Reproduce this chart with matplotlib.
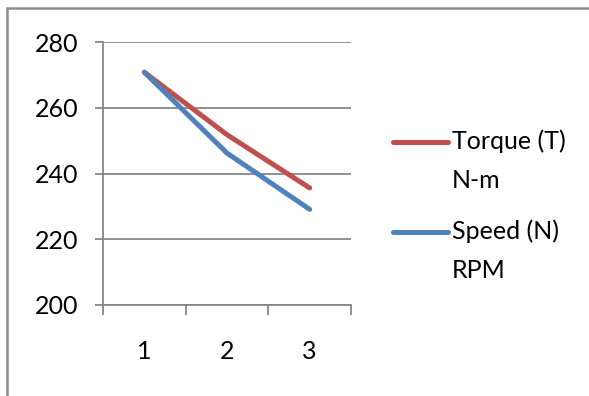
import matplotlib.pyplot as plt
from matplotlib.lines import Line2D
from matplotlib.patches import Rectangle
from matplotlib import font_manager

# data
categories = ["1", "2", "3"]
torque = [270.8, 251.8, 235.6]
speed = [270.8, 246.2, 229.1]
series_names = ["Torque (T)\nN-m", "Speed (N)\nRPM"]
yticks = [200, 220, 240, 260, 280]

RED = "#C0504D"
BLUE = "#4F81BD"
GRID = "#878787"

# pick a narrow-ish sans font like the Calibri in the original
font = "Lato"
for name in ["Liberation Sans Narrow", "Lato"]:
    try:
        font_manager.findfont(name, fallback_to_default=False)
        font = name
        break
    except Exception:
        pass
plt.rcParams["font.family"] = [font, "DejaVu Sans"]
FS = 18

fig = plt.figure(figsize=(5.89, 3.96), dpi=100)
ax = fig.add_axes([103 / 589, (396 - 305) / 396, 248 / 589, 263 / 396])

x = list(range(1, len(categories) + 1))
ax.plot(x, torque, color=RED, lw=3.6, solid_capstyle="round", zorder=3)
ax.plot(x, speed, color=BLUE, lw=3.6, solid_capstyle="round", zorder=3)

ax.set_xlim(0.5, len(categories) + 0.5)
ax.set_ylim(yticks[0], yticks[-1])
ax.set_yticks(yticks)
ax.yaxis.grid(True, color=GRID, lw=1.3)
ax.set_axisbelow(True)

# tick marks on category boundaries, labels centred on categories
ax.set_xticks([i + 0.5 for i in range(len(categories) + 1)])
ax.set_xticklabels([])
ax.set_xticks(x, minor=True)
ax.set_xticklabels(categories, minor=True, fontsize=FS)
ax.tick_params(axis="x", which="major", direction="out", length=7, width=1.3, color=GRID)
ax.tick_params(axis="x", which="minor", length=0, pad=25)
ax.tick_params(axis="y", direction="out", length=6, width=1.3, color=GRID, pad=12, labelsize=FS)

for s in ["top", "right"]:
    ax.spines[s].set_visible(False)
for s in ["left", "bottom"]:
    ax.spines[s].set_color(GRID)
    ax.spines[s].set_linewidth(1.3)

# legend drawn the Excel way: handle beside the first line of the label
for name, color, y0 in zip(series_names, [RED, BLUE], [142, 232]):
    fy = 1 - y0 / 396
    fig.add_artist(Line2D([393 / 589, 448 / 589], [fy, fy], color=color, lw=3.6,
                          solid_capstyle="round", transform=fig.transFigure))
    fig.text(452 / 589, 1 - (y0 - 13) / 396, name, fontsize=FS, va="top",
             ha="left", linespacing=1.85)

# outer chart border
fig.add_artist(Rectangle((7 / 589, -0.1), 1.2, 1 - 8 / 396 + 0.1, fill=False,
                         edgecolor="#8c8c8c", lw=1.8, transform=fig.transFigure))

fig.savefig("out.png", dpi=100)
